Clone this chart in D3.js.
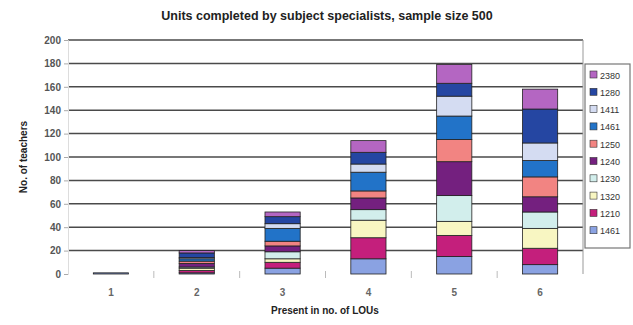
<!DOCTYPE html>
<html><head><meta charset="utf-8">
<script src="https://cdn.jsdelivr.net/npm/d3@7"></script>
<style>body{margin:0;background:#fff}svg{display:block}text{font-family:Arial,"Liberation Sans",sans-serif}</style>
</head><body><svg id="c" width="633" height="325"></svg>
<script>
const categories = ["1","2","3","4","5","6"];
// series listed bottom of stack first
const seriesNames = ["1461","1210","1320","1230","1240","1250","1461 ","1411","1280","2380"];
const seriesColors = ["#8aa2e2","#c41f7c","#f8f6c2","#d2eeec","#74207f","#f28482","#2273c8","#d4dcf2","#2546a2","#b466c2"];
const s1461a = [1,1,5,13,15,8];
const s1210  = [0,2,5,18,18,14];
const s1320  = [0,2,3,15,12,17];
const s1230  = [0,1,6,9,22,14];
const s1240  = [0,3,5,10,29,13];
const s1250  = [0,2,4,6,19,17];
const s1461b = [0,2,11,16,20,14];
const s1411  = [0,1,4,7,17,15];
const s1280  = [0,4,6,10,11,29];
const s2380  = [0,2,4,10,16,17];
const yTicks = [0,20,40,60,80,100,120,140,160,180,200];
const seriesValues = [s1461a,s1210,s1320,s1230,s1240,s1250,s1461b,s1411,s1280,s2380];

const svg = d3.select("#c");
const L=68, R=583, T=40, B=274;
const x = d3.scaleBand().domain(categories).range([L,R]).paddingInner(0.59).paddingOuter(0.295);
const y = d3.scaleLinear().domain([0,200]).range([B,T]);

const rows = categories.map((c,i)=>{const o={cat:c}; seriesNames.forEach((n,k)=>o[n]=seriesValues[k][i]); return o;});
const stacked = d3.stack().keys(seriesNames)(rows);

// title
svg.append("text").attr("x",327).attr("y",20).attr("text-anchor","middle")
  .attr("font-size","12.5px").attr("font-weight","bold").attr("fill","#222")
  .text("Units completed by subject specialists, sample size 500");

// gridlines
svg.append("g").selectAll("line").data(yTicks.filter(d=>d>0)).join("line")
  .attr("x1",L).attr("x2",R).attr("y1",d=>y(d)).attr("y2",d=>y(d))
  .attr("stroke","#4a4a4a").attr("stroke-width",1.5);
// right border
svg.append("line").attr("x1",R).attr("x2",R).attr("y1",T).attr("y2",B).attr("stroke","#999").attr("stroke-width",1);

// y axis
const ya = svg.append("g").attr("transform",`translate(${L},0)`)
  .call(d3.axisLeft(y).tickValues(yTicks).tickSize(4).tickPadding(3));
ya.select(".domain").attr("stroke","#ddd");
ya.selectAll(".tick line").attr("stroke","#aaa");
ya.selectAll("text").attr("font-size","10px").attr("font-weight","bold").attr("fill","#555").attr("font-family","Arial");

// x axis
const xa = svg.append("g").attr("transform",`translate(0,${B})`)
  .call(d3.axisBottom(x).tickSize(0).tickPadding(15));
xa.select(".domain").remove();
xa.selectAll("text").attr("font-size","10px").attr("font-weight","bold").attr("fill","#666").attr("font-family","Arial");
// boundary ticks
const step = x.step();
svg.append("g").selectAll("line").data(categories.slice(0,-1)).join("line")
  .attr("x1",d=>x(d)+x.bandwidth()/2+step/2).attr("x2",d=>x(d)+x.bandwidth()/2+step/2)
  .attr("y1",B-3).attr("y2",B+4).attr("stroke","#bbb");

// bars
svg.append("g").selectAll("g").data(stacked).join("g")
  .attr("fill",(d,i)=>seriesColors[i])
  .selectAll("rect").data(d=>d).join("rect")
  .attr("x",d=>x(d.data.cat)).attr("width",x.bandwidth())
  .attr("y",d=>y(d[1])).attr("height",d=>Math.max(0,y(d[0])-y(d[1])))
  .attr("stroke",d=>(d[1]-d[0])>0?"#222":"none").attr("stroke-width",0.8);

// axis titles
svg.append("text").attr("transform","translate(27,157) rotate(-90)").attr("text-anchor","middle")
  .attr("font-size","10px").attr("font-weight","bold").attr("fill","#222").text("No. of teachers");
svg.append("text").attr("x",325).attr("y",314).attr("text-anchor","middle")
  .attr("font-size","10px").attr("font-weight","bold").attr("fill","#222").text("Present in no. of LOUs");

// legend
const lg = svg.append("g");
lg.append("rect").attr("x",585).attr("y",64).attr("width",45).attr("height",184)
  .attr("fill","#fff").attr("stroke","#777").attr("stroke-width",1.2);
const legendItems = seriesNames.map((n,i)=>({n,c:seriesColors[i]})).reverse();
const li = lg.selectAll("g.it").data(legendItems).join("g").attr("class","it")
  .attr("transform",(d,i)=>`translate(590,${75+i*17.3})`);
li.append("rect").attr("x",0).attr("y",-4).attr("width",7).attr("height",7).attr("fill",d=>d.c).attr("stroke","#333").attr("stroke-width",0.6);
li.append("text").attr("x",10).attr("y",3.5).attr("font-size","9px").attr("fill","#333").text(d=>d.n.trim());
</script></body></html>
